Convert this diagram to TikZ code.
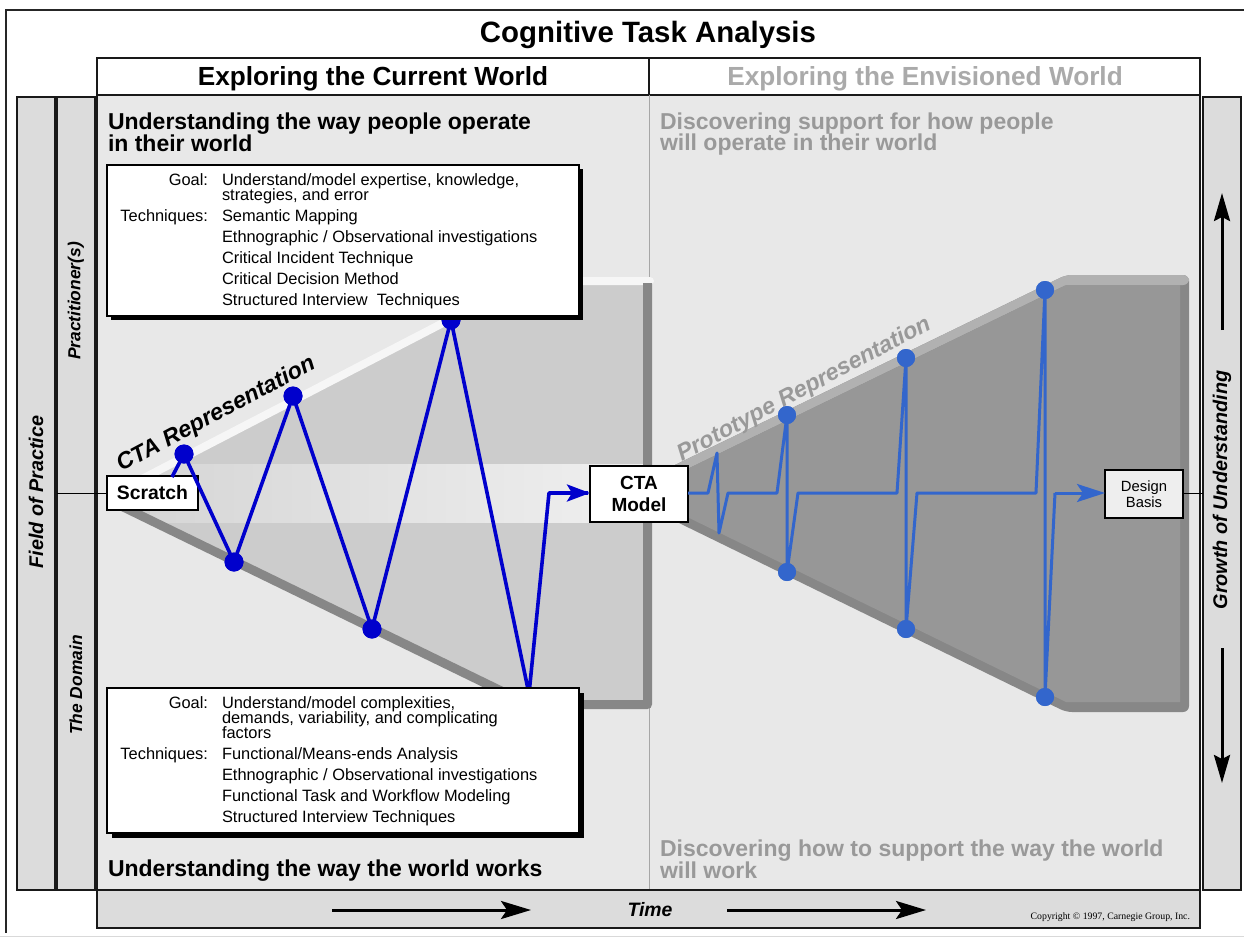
\documentclass[tikz,border=0pt]{standalone}
\usepackage{fontspec}
\setmainfont{Liberation Sans}
\newfontfamily\crfont{Liberation Serif}
\usetikzlibrary{arrows.meta}
\definecolor{panelc}{HTML}{E8E8E8}
\definecolor{sidecol}{HTML}{DCDCDC}
\definecolor{hdrgray}{HTML}{AAAAAA}
\definecolor{txtgray}{HTML}{999999}
\definecolor{lfill}{HTML}{CCCCCC}
\definecolor{shadowg}{HTML}{878787}
\definecolor{rfill}{HTML}{979797}
\definecolor{rtop}{HTML}{B1B1B1}
\definecolor{stripc}{HTML}{F6F6F6}
\definecolor{zigL}{HTML}{0000CC}
\definecolor{zigR}{HTML}{3366CC}
\definecolor{dbfill}{HTML}{EEEEEE}
\newcommand\fsz[2]{\fontsize{#1pt}{#2pt}\selectfont}
\begin{document}
\begin{tikzpicture}[x=0.5pt,y=-0.5pt,
  every node/.style={inner sep=0pt,outer sep=0pt},
  bdr/.style={draw=black!90,line width=1pt},
  txtbox/.style={draw=black,line width=0.8pt,fill=white},
  dotL/.style={circle,fill=zigL,minimum size=9.5pt},
  dotR/.style={circle,fill=zigR,minimum size=9pt},
  zigline/.style={draw=zigL,line width=1.8pt,line join=round},
  zagline/.style={draw=zigR,line width=1.5pt,line join=round},
  timearrow/.style={line width=1.5pt,-{Stealth[length=15pt,width=9pt,inset=3pt]}},
  growarrow/.style={line width=1.5pt,-{Stealth[length=14pt,width=8pt,inset=2pt]}},
  boxtxt/.style={font=\fsz{8.2}{9},anchor=base west},
  boxlbl/.style={font=\fsz{8.2}{9},anchor=base east},
  headtxt/.style={font=\bfseries\fsz{11.5}{13},anchor=base west},
  grayhead/.style={font=\bfseries\fsz{11.5}{13},anchor=base west,text=txtgray},
  sidetxt/.style={font=\bfseries\itshape\fsz{9.9}{11},rotate=90},
  subside/.style={font=\bfseries\itshape\fsz{8.7}{10},rotate=90},
  replbl/.style={font=\bfseries\itshape\fsz{11.6}{13},rotate=28,anchor=base}]
\useasboundingbox (0,0) rectangle (1244,938);
% outer frame
\draw[line width=0.6pt,black!85] (1244,10) -- (6,10) -- (6,933);
\draw[line width=0.5pt,black!15] (0,936) -- (1244,936);
% title
\node[font=\bfseries\fsz{14.7}{17},anchor=base] (title) at (648,42) {Cognitive Task Analysis};
% header boxes
\draw[bdr,fill=white] (97,58) rectangle (649,95);
\draw[bdr,fill=white] (649,58) rectangle (1200,95);
\node[font=\bfseries\fsz{13.1}{15},anchor=base] (hcur) at (373,85) {Exploring the Current World};
\node[font=\bfseries\fsz{13.1}{15},anchor=base,text=hdrgray] (henv) at (925,85) {Exploring the Envisioned World};
% main panel
\draw[bdr,fill=panelc] (97,95) rectangle (1200,890);
\draw[line width=0.5pt,black!35] (649,95) -- (649,890);
% side columns
\draw[bdr,fill=sidecol] (17,97) rectangle (55,890);
\draw[bdr,fill=sidecol] (57,97) rectangle (95,890);
\draw[bdr,fill=sidecol] (1203,97) rectangle (1241,890);
% time bar
\draw[bdr,fill=sidecol] (97,890) rectangle (1200,928);
% ---------- left funnel ----------
\fill[lfill] (113,498) -- (524,285) -- (643,285) -- (643,700) -- (529,700) -- cycle;
\begin{scope}
  \clip (113,498) -- (524,285) -- (643,285) -- (643,700) -- (529,700) -- cycle;
  \shade[left color=lfill!80!white,right color=white!94!black] (150,464) rectangle (643,522);
\end{scope}
\draw[stripc,line width=4pt,line cap=round,line join=round] (113,494) -- (524,281) -- (650,281);
\draw[shadowg,line width=4.5pt,line join=round] (113,502) -- (529,704.5) -- (647.5,704.5) -- (647.5,283);
% ---------- right funnel ----------
\fill[shadowg,rounded corners=3pt] (670,467.4) -- (1066,275) -- (1189,275) -- (1189,712) -- (1066,712) -- (670,518.6) -- cycle;
\fill[rtop,rounded corners=3pt] (670,467.4) -- (1066,275) -- (1189,275) -- (1189,285) -- (1066,285) -- (670,477.4) -- cycle;
\fill[rfill] (670,477.4) -- (1066,285) -- (1180,285) -- (1180,702) -- (1066,702) -- (670,508.6) -- cycle;
% representation labels
\node[replbl] (ctarep) at (219,420) {CTA Representation};
\node[replbl,text=txtgray] (protorep) at (807,395) {Prototype Representation};
% ---------- boxes (named) ----------
\node[txtbox,minimum width=45.5pt,minimum height=17pt,anchor=north west,font=\bfseries\fsz{9.7}{11}] (scratch) at (107,476) {Scratch};
\node[txtbox,minimum width=49pt,minimum height=28pt,anchor=north west,font=\bfseries\fsz{9.5}{11},align=center] (ctamodel) at (590,466) {CTA\\Model};
\node[txtbox,fill=dbfill,minimum width=39pt,minimum height=24pt,anchor=north west,font=\fsz{7.4}{8},align=center] (design) at (1105,470) {Design\\Basis};
% side connectors
\coordinate (lcon) at (57,493);
\coordinate (rcon) at (1203,493);
\draw[line width=0.5pt] (lcon) -- (scratch.west |- lcon);
\draw[line width=0.5pt] (design.east |- rcon) -- (rcon);
% ---------- left zigzag ----------
\coordinate (z0) at (172,477);
\node[dotL] (d1) at (184,454) {};
\node[dotL] (d2) at (234,562) {};
\node[dotL] (d3) at (293,396) {};
\node[dotL] (d4) at (372,629) {};
\node[dotL] (d5) at (451,320) {};
\coordinate (d6) at (529,694);
\coordinate (z7) at (549,493);
\draw[zigline] (z0) -- (d1.center) -- (d2.center) -- (d3.center) -- (d4.center) -- (d5.center) -- (d6) -- (z7) -- ([xshift=-1pt]ctamodel.west |- z7);
\draw[zigL,line width=1.8pt,-{Stealth[length=11.5pt,width=8.5pt,inset=2.5pt]}] (z7) -- (ctamodel.west |- z7);
\node[dotL] at (d1) {};
\node[dotL] at (d2) {};
\node[dotL] at (d3) {};
\node[dotL] at (d4) {};
\node[dotL] at (d5) {};
% ---------- right zigzag ----------
\coordinate (r0) at (708,493);
\coordinate (r1) at (717,453);
\coordinate (r2) at (719,533);
\coordinate (r3) at (728,493);
\coordinate (r4) at (777,493);
\node[dotR] (e1) at (787,415) {};
\node[dotR] (e2) at (787,572) {};
\coordinate (r5) at (798,493);
\coordinate (r6) at (897,493);
\node[dotR] (e3) at (906,358) {};
\node[dotR] (e4) at (906,629) {};
\coordinate (r7) at (917,493);
\coordinate (r8) at (1036,493);
\node[dotR] (e5) at (1045,290) {};
\node[dotR] (e6) at (1045,697) {};
\coordinate (r9) at (1055,493);
\draw[zagline] (ctamodel.east |- r0) -- (r0) -- (r1) -- (r2) -- (r3) -- (r4) -- (e1.center) -- (e2.center) -- (r5) -- (r6) -- (e3.center) -- (e4.center) -- (r7) -- (r8) -- (e5.center) -- (e6.center) -- (r9);
\draw[zigR,line width=1.5pt,-{Stealth[length=14pt,width=9pt,inset=3pt]}] (r9) -- (design.west |- r9);
\node[dotR] at (e1) {};
\node[dotR] at (e2) {};
\node[dotR] at (e3) {};
\node[dotR] at (e4) {};
\node[dotR] at (e5) {};
\node[dotR] at (e6) {};
% ---------- goal boxes ----------
\fill[black] (111,169) rectangle (583,320);
\node[txtbox,minimum width=236pt,minimum height=75.5pt,anchor=north west] (pbox) at (107,165) {};
\fill[black] (112,693) rectangle (584,838);
\node[txtbox,minimum width=236pt,minimum height=72.5pt,anchor=north west] (dbox) at (107,688) {};
% box texts (top)
\node[boxlbl] (pg) at (208,185) {Goal:};
\node[boxtxt] (pg1) at (222,185) {Understand/model expertise, knowledge,};
\node[boxtxt] (pg2) at (222,200) {strategies, and error};
\node[boxlbl] (pt) at (208,221) {Techniques:};
\node[boxtxt] (pt1) at (222,221) {Semantic Mapping};
\node[boxtxt] (pt2) at (222,242) {Ethnographic / Observational investigations};
\node[boxtxt] (pt3) at (222,263) {Critical Incident Technique};
\node[boxtxt] (pt4) at (222,284) {Critical Decision Method};
\node[boxtxt] (pt5) at (222,305) {Structured Interview\ \ Techniques};
% box texts (bottom)
\node[boxlbl] (dg) at (208,708) {Goal:};
\node[boxtxt] (dg1) at (222,708) {Understand/model complexities,};
\node[boxtxt] (dg2) at (222,723) {demands, variability, and complicating};
\node[boxtxt] (dg3) at (222,738) {factors};
\node[boxlbl] (dt) at (208,759) {Techniques:};
\node[boxtxt] (dt1) at (222,759) {Functional/Means-ends Analysis};
\node[boxtxt] (dt2) at (222,780) {Ethnographic / Observational investigations};
\node[boxtxt] (dt3) at (222,801) {Functional Task and Workflow Modeling};
\node[boxtxt] (dt4) at (222,822) {Structured Interview Techniques};
% quadrant headings
\node[headtxt] (q1a) at (108,129) {Understanding the way people operate};
\node[headtxt] (q1b) at (108,151) {in their world};
\node[headtxt] (q3) at (108,876) {Understanding the way the world works};
\node[grayhead] (q2a) at (660,129) {Discovering support for how people};
\node[grayhead] (q2b) at (660,150) {will operate in their world};
\node[grayhead] (q4a) at (660,856) {Discovering how to support the way the world};
\node[grayhead] (q4b) at (660,878) {will work};
% side labels
\node[sidetxt] (fop) at (36,492) {Field of Practice};
\node[subside] (prac) at (76,301) {Practitioner(s)};
\node[subside] (dom) at (76,685) {The Domain};
\node[sidetxt] (grow) at (1222,490) {Growth of Understanding};
% growth arrows
\coordinate (gu1) at (1222,330);
\coordinate (gu2) at (1222,193);
\coordinate (gd1) at (1222,648);
\coordinate (gd2) at (1222,783);
\draw[growarrow] (gu1) -- (gu2);
\draw[growarrow] (gd1) -- (gd2);
% time bar
\coordinate (ta1) at (332,910);
\coordinate (ta2) at (531,910);
\coordinate (tb1) at (727,910);
\coordinate (tb2) at (926,910);
\draw[timearrow] (ta1) -- (ta2);
\draw[timearrow] (tb1) -- (tb2);
\node[font=\bfseries\itshape\fsz{9.7}{11},anchor=base] (time) at (650,916) {Time};
\node[font=\crfont\fsz{4.9}{6},anchor=base east] (copy) at (1190,919) {Copyright \textcopyright{} 1997, Carnegie Group, Inc.};
\end{tikzpicture}
\end{document}
